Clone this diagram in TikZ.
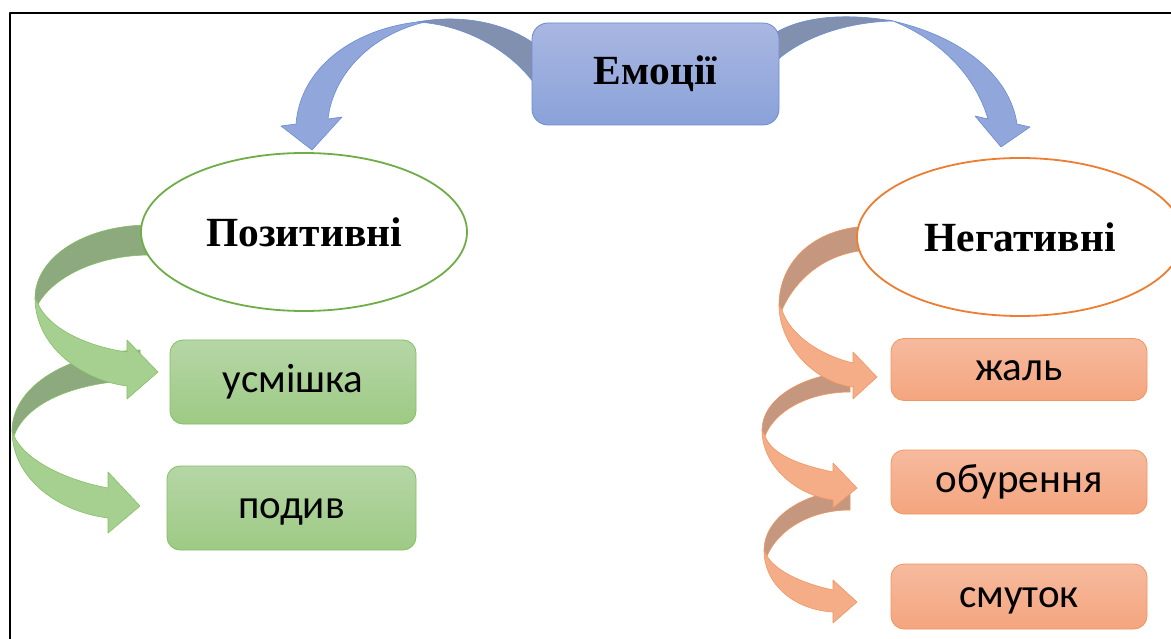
\documentclass[tikz,border=0pt]{standalone}
\usepackage{fontspec}
\setmainfont{Liberation Serif}
\newfontfamily\boxfont{Carlito}
\usetikzlibrary{shapes.geometric}
\definecolor{bluetop}{HTML}{A9B7E1}
\definecolor{bluebot}{HTML}{8AA2D9}
\definecolor{blueline}{HTML}{6A8CD2}
\definecolor{bluedark}{HTML}{8290B0}
\definecolor{bluelight}{HTML}{91A7DB}
\definecolor{greentop}{HTML}{B5D6A6}
\definecolor{greenbot}{HTML}{9DCA84}
\definecolor{greenline}{HTML}{86BF64}
\definecolor{greendark}{HTML}{8CAA7E}
\definecolor{greenlight}{HTML}{A6D08F}
\definecolor{greenring}{HTML}{70AD47}
\definecolor{orangetop}{HTML}{F6BA9E}
\definecolor{orangebot}{HTML}{F4A57E}
\definecolor{orangeline}{HTML}{F09660}
\definecolor{orangedark}{HTML}{C6977F}
\definecolor{orangelight}{HTML}{F5AD88}
\definecolor{orangering}{HTML}{ED7D31}
\begin{document}
\begin{tikzpicture}[x=1pt, y=-1pt, line join=round]
	\tikzset{
		head/.style={ellipse, draw, line width=1.8pt, fill=white, minimum width=326, minimum height=158, font=\fontsize{41.5}{44}\selectfont\bfseries},
		item/.style={rectangle, rounded corners=13, draw, line width=0.8pt, text height=25pt, text depth=4pt, font=\boxfont\fontsize{41}{44}\selectfont},
		gbox/.style={item, draw=greenline, top color=greentop, bottom color=greenbot},
		obox/.style={item, draw=orangeline, top color=orangetop, bottom color=orangebot}
	}
	\useasboundingbox (0,0) rectangle (1171,639);
	\fill[white] (0,0) rectangle (1171,639);
	\draw[line width=1.2pt] (10,639)--(10,13)--(1171,13);
	% blue arrows
	\begin{scope}[draw=blueline, line width=0.6pt]
		\filldraw[fill=bluedark] (536,45) .. controls (505,22) and (460,14) .. (417,22) .. controls (470,25) and (515,55) .. (536,86) -- cycle;
		\filldraw[fill=bluelight] (417,22) .. controls (350,30) and (300,70) .. (296,124) -- (281,126) -- (312,150) -- (342,117) -- (328,119) .. controls (333,75) and (370,35) .. (425,22) -- cycle;
		\filldraw[fill=bluedark] (775,33) .. controls (800,18) and (840,12) .. (893,21) .. controls (850,22) and (805,35) .. (775,62) -- cycle;
		\filldraw[fill=bluelight] (888,20) .. controls (960,35) and (1010,75) .. (1017,124) -- (1030,127) -- (1001,147) -- (975,116) -- (988,119) .. controls (975,75) and (940,40) .. (893,21) -- cycle;
	\end{scope}
	% green arrows
	\begin{scope}[draw=greenline, line width=0.6pt]
		\filldraw[fill=greendark] (140,350) .. controls (70,352) and (13,385) .. (12,430) -- (14,436) .. controls (25,405) and (70,382) .. (140,380) -- cycle;
		\filldraw[fill=greenlight] (12,430) .. controls (12,480) and (60,512) .. (108,518) -- (108,533) -- (140,506) -- (108,472) -- (108,488) .. controls (65,480) and (25,460) .. (14,436) -- cycle;
		\filldraw[fill=greendark] (150,225) .. controls (82,225) and (35,259) .. (35,298) -- (38,304) .. controls (55,275) and (100,255) .. (150,255) -- cycle;
		\filldraw[fill=greenlight] (35,298) .. controls (35,345) and (80,380) .. (127,386) -- (127,399) -- (158,372) -- (127,340) -- (127,352) .. controls (90,347) and (50,330) .. (38,304) -- cycle;
	\end{scope}
	% orange arrows
	\begin{scope}[draw=orangeline, line width=0.6pt]
		\filldraw[fill=orangedark] (850,490) .. controls (800,492) and (764,520) .. (764,550) -- (767,556) .. controls (778,530) and (810,510) .. (850,510) -- cycle;
		\filldraw[fill=orangelight] (764,550) .. controls (764,585) and (795,610) .. (833,612) -- (833,623) -- (857,602) -- (833,580) -- (833,590) .. controls (800,583) and (775,570) .. (767,556) -- cycle;
		\filldraw[fill=orangedark] (850,372) .. controls (800,375) and (762,400) .. (762,430) -- (765,436) .. controls (775,410) and (810,392) .. (850,392) -- cycle;
		\filldraw[fill=orangelight] (762,430) .. controls (762,465) and (795,495) .. (833,500) -- (833,508) -- (857,488) -- (833,463) -- (833,472) .. controls (800,465) and (772,455) .. (765,436) -- cycle;
		\filldraw[fill=orangedark] (870,226) .. controls (810,228) and (779,265) .. (779,305) -- (782,310) .. controls (795,280) and (825,252) .. (870,250) -- cycle;
		\filldraw[fill=orangelight] (779,305) .. controls (779,345) and (815,383) .. (853,387) -- (853,399) -- (877,377) -- (853,352) -- (853,363) .. controls (820,355) and (790,335) .. (782,310) -- cycle;
	\end{scope}
	% nodes
	\node[rectangle, rounded corners=16, draw=blueline, line width=0.8pt, top color=bluetop, bottom color=bluebot, minimum width=247, minimum height=102, font=\fontsize{41.5}{44}\selectfont\bfseries] (emo) at (655.5,74) {Емоції};
	\node[head, draw=greenring] (pos) at (304,232) {Позитивні};
	\node[head, draw=orangering] (neg) at (1020,237) {Негативні};
	\node[gbox, minimum width=246, minimum height=84] (usm) at (293,382) {усмішка};
	\node[gbox, minimum width=249, minimum height=84] (pod) at (291.5,508) {подив};
	\node[obox, minimum width=256, minimum height=62] (zhal) at (1019,369.5) {жаль};
	\node[obox, minimum width=256, minimum height=64] (obur) at (1019,482) {обурення};
	\node[obox, minimum width=256, minimum height=65] (smut) at (1019,596.5) {смуток};
\end{tikzpicture}
\end{document}
